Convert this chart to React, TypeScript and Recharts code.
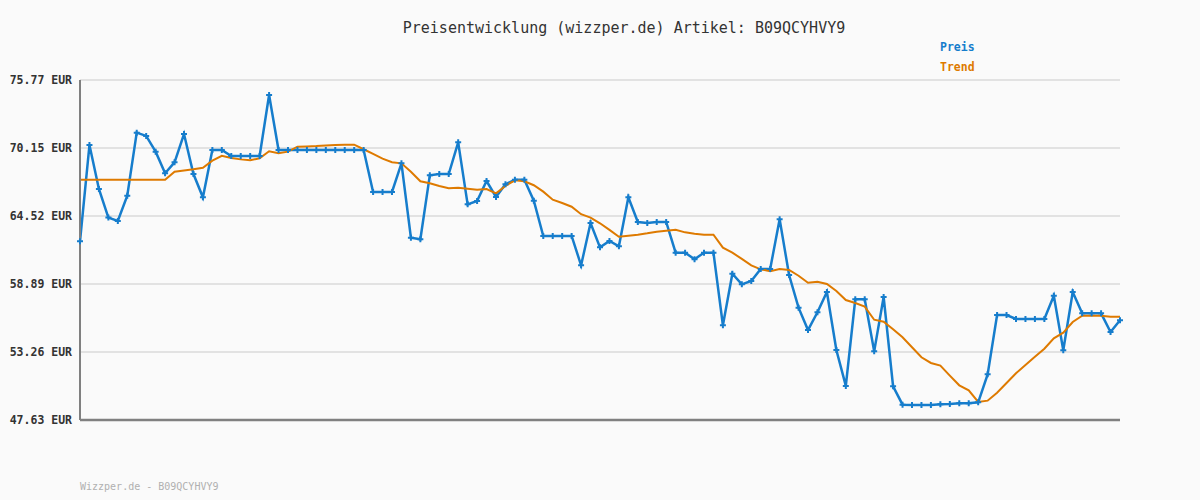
import React from 'react';
import { LineChart, Line, XAxis, YAxis, CartesianGrid } from 'recharts';

const chartTitle = 'Preisentwicklung (wizzper.de) Artikel: B09QCYHVY9';
const footerText = 'Wizzper.de - B09QCYHVY9';
const seriesNames = ['Preis', 'Trend'];

const priceValues: number[] = [
  62.42, 70.39, 66.75, 64.38, 64.1, 66.2, 71.41, 71.14, 69.84, 68.05,
  68.96, 71.3, 67.99, 66.06, 69.98, 69.98, 69.48, 69.48, 69.48, 69.48,
  74.53, 69.98, 69.98, 69.98, 69.98, 69.98, 69.98, 69.98, 69.98, 69.98,
  69.98, 66.5, 66.5, 66.5, 68.87, 62.72, 62.59, 67.88, 67.99, 67.99,
  70.61, 65.48, 65.76, 67.41, 66.09, 67.14, 67.52, 67.52, 65.78, 62.86,
  62.86, 62.86, 62.86, 60.43, 63.94, 61.92, 62.45, 62.01, 66.06, 64.02,
  63.94, 64.02, 64.02, 61.48, 61.48, 60.93, 61.48, 61.48, 55.47, 59.74,
  58.86, 59.14, 60.13, 60.13, 64.24, 59.63, 56.93, 55.08, 56.55, 58.22,
  53.42, 50.45, 57.62, 57.62, 53.32, 57.81, 50.42, 48.9, 48.87, 48.87,
  48.87, 48.93, 48.96, 49.01, 49.01, 49.09, 51.41, 56.32, 56.32, 55.99,
  55.99, 55.99, 55.99, 57.92, 53.4, 58.22, 56.46, 56.46, 56.46, 54.91,
  55.88,
];

const trendValues: number[] = [
  67.52, 67.52, 67.52, 67.52, 67.52, 67.52, 67.52, 67.52, 67.52, 67.52,
  68.18, 68.28, 68.38, 68.51, 69.09, 69.5, 69.31, 69.2, 69.12, 69.29,
  69.87, 69.7, 69.84, 70.25, 70.27, 70.3, 70.35, 70.39, 70.42, 70.42,
  70.04, 69.65, 69.26, 68.96, 68.87, 68.18, 67.39, 67.22, 67.0, 66.81,
  66.86, 66.77, 66.69, 66.75, 66.39, 67.0, 67.47, 67.39, 67.06, 66.53,
  65.86, 65.59, 65.28, 64.66, 64.38, 63.91, 63.36, 62.8, 62.88, 62.97,
  63.08, 63.21, 63.3, 63.38, 63.16, 63.05, 62.97, 62.97, 61.89, 61.48,
  60.96, 60.43, 60.1, 59.94, 60.13, 60.05, 59.57, 58.99, 59.08, 58.89,
  58.31, 57.56, 57.31, 57.02, 55.93, 55.77, 55.14, 54.48, 53.65, 52.82,
  52.35, 52.13, 51.3, 50.5, 50.09, 49.12, 49.23, 49.89, 50.69, 51.5,
  52.18, 52.87, 53.53, 54.39, 54.86, 55.74, 56.26, 56.26, 56.26, 56.18,
  56.18,
];

const yTicks = [47.63, 53.26, 58.89, 64.52, 70.15, 75.77];

const BLUE = '#167dcc';
const ORANGE = '#de7a00';
const FONT = '"DejaVu Sans Mono", "Liberation Mono", monospace';

const data = priceValues.map((p, i) => ({ idx: i, price: p, trend: trendValues[i] }));

const PlusDot = (props: any) => {
  const { cx, cy, index } = props;
  if (cx == null || cy == null) return null;
  return (
    <path
      key={`d${index}`}
      d={`M${cx - 3},${cy}H${cx + 3}M${cx},${cy - 3}V${cy + 3}`}
      stroke={BLUE}
      strokeWidth={2}
      fill="none"
    />
  );
};

const YTick = (props: any) => {
  const { x, y, payload } = props;
  return (
    <text
      x={x}
      y={y}
      textAnchor="end"
      dominantBaseline="central"
      fill="#333"
      fontSize={11.5}
      fontWeight="bold"
      fontFamily={FONT}
    >
      {`${Number(payload.value).toFixed(2)} EUR`}
    </text>
  );
};

export default function App() {
  return (
    <div style={{ position: 'absolute', left: 0, top: 0, width: 1200, height: 500, background: '#fafafa', fontFamily: FONT }}>
      <LineChart
        width={1200}
        height={500}
        data={data}
        margin={{ top: 80, right: 80, bottom: 79, left: 10 }}
      >
        <CartesianGrid vertical={false} stroke="#e2e2e2" strokeWidth={2} />
        <XAxis
          dataKey="idx"
          type="category"
          height={1}
          tick={false}
          tickLine={false}
          axisLine={{ stroke: '#808080', strokeWidth: 2.5 }}
        />
        <YAxis
          width={70}
          domain={[47.63, 75.77]}
          ticks={yTicks}
          interval={0}
          tickLine={false}
          tickMargin={2}
          axisLine={{ stroke: '#808080', strokeWidth: 2 }}
          tick={YTick}
        />
        <Line
          type="linear"
          dataKey="price"
          stroke={BLUE}
          strokeWidth={2.5}
          dot={PlusDot}
          activeDot={false}
          isAnimationActive={false}
        />
        <Line
          type="linear"
          dataKey="trend"
          stroke={ORANGE}
          strokeWidth={2}
          dot={false}
          activeDot={false}
          isAnimationActive={false}
        />
      </LineChart>
      <div style={{ position: 'absolute', left: 0, width: 1248, top: 19, textAlign: 'center', fontSize: 15, color: '#333', lineHeight: '18px', whiteSpace: 'pre' }}>
        {chartTitle}
      </div>
      <div style={{ position: 'absolute', left: 940, top: 39, fontSize: 11.5, fontWeight: 'bold', color: BLUE, lineHeight: '16px' }}>
        {seriesNames[0]}
      </div>
      <div style={{ position: 'absolute', left: 940, top: 59, fontSize: 11.5, fontWeight: 'bold', color: ORANGE, lineHeight: '16px' }}>
        {seriesNames[1]}
      </div>
      <div style={{ position: 'absolute', left: 80, top: 480, fontSize: 10, color: '#b0b0b0', lineHeight: '14px', whiteSpace: 'pre' }}>
        {footerText}
      </div>
    </div>
  );
}
